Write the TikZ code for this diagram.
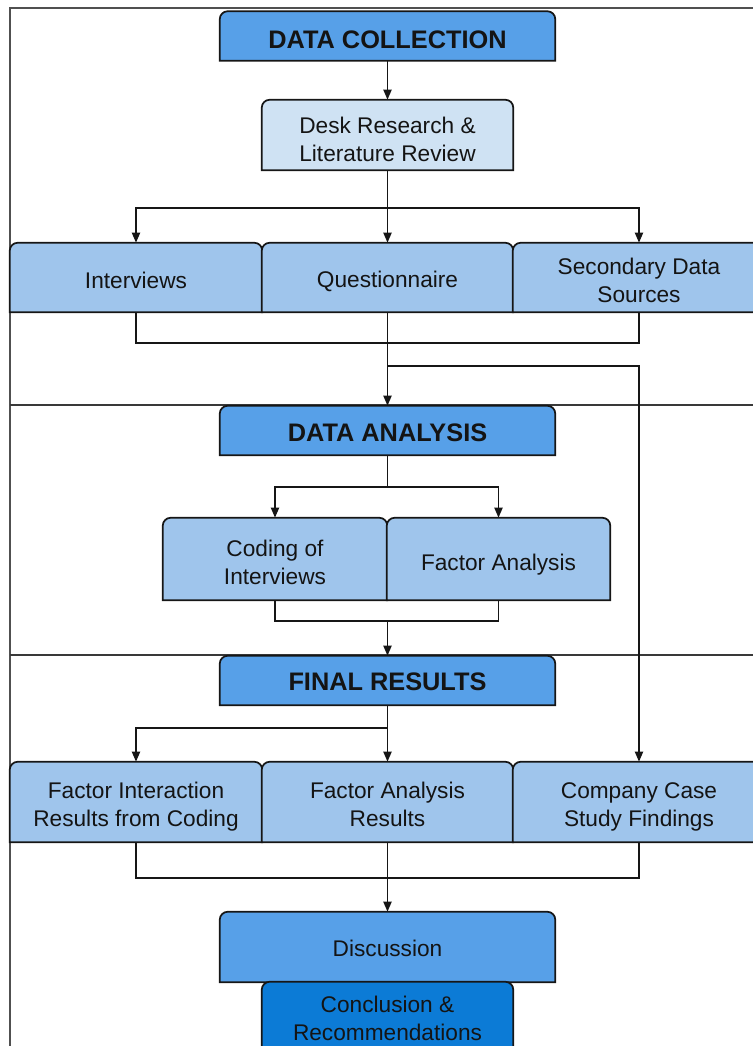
\documentclass[tikz,border=0pt]{standalone}
\usepackage{fontspec}
\setmainfont{Liberation Sans}
\usetikzlibrary{arrows.meta}
\pgfdeclarelayer{background}
\pgfsetlayers{background,main}

\definecolor{hdrblue}{RGB}{87,160,232}
\definecolor{midblue}{RGB}{159,197,236}
\definecolor{paleblue}{RGB}{207,226,243}
\definecolor{deepblue}{RGB}{12,123,214}
\definecolor{inkline}{RGB}{22,22,22}
\definecolor{framegray}{RGB}{80,80,80}

% centred label, lowered inside its box without changing the box size
\newcommand\lbl[2][-2.6pt]{\raisebox{#1}[\height][\depth]{\begin{tabular}{@{}c@{}}#2\end{tabular}}}

\tikzset{
  boxtext/.style={draw=none, inner sep=0pt, text=black!92,
    font=\fontsize{17}{21}\selectfont},
  header/.style={boxtext, font=\fontsize{19}{22}\selectfont\bfseries,
    minimum width=251.25pt, minimum height=36.75pt},
  wide/.style={boxtext, minimum width=189pt},
  boxline/.style={draw=inkline, line width=1.3pt},
  conn/.style={draw=inkline, line width=1.4pt},
  arr/.style={conn, -{Triangle[length=7.5pt,width=6pt]}},
  frameline/.style={draw=framegray, line width=1.8pt},
  sepline/.style={draw=inkline!85, line width=1.5pt}
}

\begin{document}
\begin{tikzpicture}[x=0.75pt,y=0.75pt]
\useasboundingbox (0,0) rectangle (753,-1046);

% ---- stage 1: data collection
\node[header] (dc) at (387.5,-36) {\lbl[-4.6pt]{DATA COLLECTION}};
\node[boxtext, minimum width=188.25pt, minimum height=52.5pt] (desk) at (387.5,-135) {\lbl[-4.9pt]{Desk Research \&\\Literature Review}};
\node[wide, minimum height=51.75pt] (intv)  at (136,-277.5) {\lbl[-4.1pt]{Interviews}};
\node[wide, minimum height=51.75pt, minimum width=188.25pt] (quest) at (387.5,-277.5) {\lbl[-3pt]{Questionnaire}};
\node[wide, minimum height=51.75pt] (sec)   at (639,-277.5) {\lbl[-4.1pt]{Secondary Data\\Sources}};

% ---- stage 2: data analysis
\node[header] (da) at (387.5,-430.5) {\lbl[-3.8pt]{DATA ANALYSIS}};
\node[boxtext, minimum width=168pt, minimum height=61.5pt] (cod) at (275,-559) {\lbl[-4.7pt]{Coding of\\Interviews}};
\node[boxtext, minimum width=167.25pt, minimum height=61.5pt] (fa) at (498.5,-559) {\lbl[-4.3pt]{Factor Analysis}};

% ---- stage 3: final results
\node[header] (fr) at (387.5,-680.5) {\lbl[-3.3pt]{FINAL RESULTS}};
\node[wide, minimum height=60pt] (fir) at (136,-802) {\lbl[-3.7pt]{Factor Interaction\\Results from Coding}};
\node[wide, minimum height=60pt, minimum width=188.25pt] (far) at (387.5,-802) {\lbl[-3.9pt]{Factor Analysis\\Results}};
\node[wide, minimum height=60pt] (ccs) at (639,-802) {\lbl[-3.7pt]{Company Case\\Study Findings}};
\node[boxtext, minimum width=251.25pt, minimum height=52.5pt] (disc) at (387.5,-947) {\lbl[-3pt]{Discussion}};
\node[boxtext, minimum width=188.25pt, minimum height=57pt] (conc) at (387.5,-1020) {\lbl[-0.8pt]{Conclusion \&\\Recommendations}};

% junction points of the connectors
\coordinate (j1) at (387.5,-208);
\coordinate (j2) at (387.5,-343);
\coordinate (j3) at (387.5,-366);
\coordinate (j4) at (387.5,-487);
\coordinate (j5) at (387.5,-621);
\coordinate (j6) at (387.5,-728);
\coordinate (j7) at (387.5,-878);

% frame, stage separators and box shapes (rounded top, square bottom)
\begin{pgfonlayer}{background}
  \draw[frameline] (10,-1060) -- (10,-8) -- (770,-8);
  \draw[sepline] (10,-405) -- (770,-405);
  \draw[sepline] (10,-655) -- (770,-655);
  \foreach \n/\c in {dc/hdrblue, desk/paleblue, intv/midblue, quest/midblue, sec/midblue,
                     da/hdrblue, cod/midblue, fa/midblue, fr/hdrblue,
                     fir/midblue, far/midblue, ccs/midblue, disc/hdrblue, conc/deepblue}
    \draw[boxline, fill=\c] (\n.south west) -- ([yshift=-6pt]\n.north west)
      arc[start angle=180, end angle=90, radius=6pt] -- ([xshift=-6pt]\n.north east)
      arc[start angle=90, end angle=0, radius=6pt] -- (\n.south east) -- cycle;
\end{pgfonlayer}

% connectors
\draw[arr] (dc.south) -- (desk.north);
\draw[conn] (desk.south) -- (j1);
\draw[arr] (j1) -| (intv.north);
\draw[arr] (j1) -- (quest.north);
\draw[arr] (j1) -| (sec.north);

\draw[conn] (intv.south) |- (j2) -| (sec.south);
\draw[arr] (quest.south) -- (da.north);
\draw[arr] (j3) -| (ccs.north);

\draw[conn] (da.south) -- (j4);
\draw[arr] (j4) -| (cod.north);
\draw[arr] (j4) -| (fa.north);

\draw[conn] (cod.south) |- (j5) -| (fa.south);
\draw[arr] (j5) -- (fr.north);

\draw[conn] (fr.south) -- (j6);
\draw[arr] (j6) -| (fir.north);
\draw[arr] (j6) -- (far.north);

\draw[conn] (fir.south) |- (j7) -| (ccs.south);
\draw[arr] (far.south) -- (disc.north);
\end{tikzpicture}
\end{document}
